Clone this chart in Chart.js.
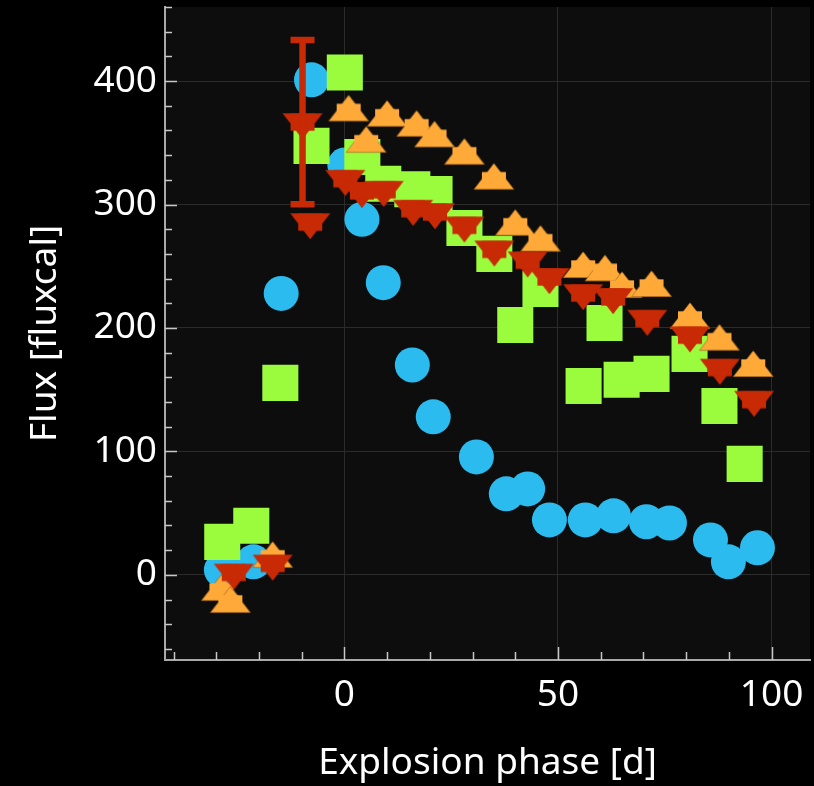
<!DOCTYPE html>
<html>
<head>
<meta charset="utf-8">
<script src="https://cdn.jsdelivr.net/npm/chart.js@4.4.1/dist/chart.umd.min.js"></script>
<style>
  html, body { margin: 0; padding: 0; background: #000; }
  #wrap { width: 814px; height: 786px; }
</style>
</head>
<body>
<div id="wrap"><canvas id="lc" width="814" height="786"></canvas></div>
<script>
// Light-curve photometry, flux vs. phase since explosion, four bands.
const blueX = [-28.8, -21.3, -14.8, -7.7, 0.1, 4.1, 9.1, 15.9, 20.8, 30.9, 37.9, 42.9, 48.0, 56.4, 63.0, 70.7, 76.1, 85.7, 89.9, 96.7];
const blueY = [4, 10.5, 228, 401, 332, 288, 236.7, 170, 128, 95.5, 65.6, 69.6, 44.5, 44.5, 47.8, 43, 42, 28.3, 10.5, 21.9];

const greenX = [-28.6, -21.8, -15.0, -7.7, 0.1, 4.2, 9.1, 15.9, 21.1, 28.1, 35.1, 40.0, 45.9, 56.0, 60.9, 64.9, 71.9, 80.8, 87.8, 93.7];
const greenY = [26.7, 39.7, 155.5, 347.5, 407, 338.5, 316.8, 312.3, 308.5, 281, 260, 202.4, 231.6, 153, 204, 158, 162.8, 179, 136.8, 89.9];

const orangeX = [-28.8, -26.7, -16.8, 1.0, 5.1, 10.0, 16.9, 21.1, 28.1, 35.0, 40.0, 45.9, 55.9, 61.0, 65.0, 71.9, 80.9, 87.8, 95.7];
const orangeY = [-13.8, -23.5, 13, 374.6, 349.3, 370.3, 362.2, 353.6, 339.5, 319.3, 282, 269.1, 247.8, 245.1, 231.6, 232.4, 206.5, 188.9, 167.6];

const redX = [-25.9, -16.8, -9.8, -8.0, 0.2, 4.1, 9.2, 16.1, 21.2, 28.1, 35.1, 42.9, 48.0, 55.9, 62.9, 70.9, 80.9, 87.9, 95.9];
const redY = [1.9, 9.2, 366.8, 285.8, 320.9, 311, 312, 296.6, 293.9, 283.1, 263.7, 254.8, 241.3, 228.3, 225.1, 207.5, 194.1, 167.9, 141.9];
const redErr = [null, null, 66.5, null, null, null, null, null, null, null, null, null, null, null, null, null, null, null, null];

const xTickValues = [0, 50, 100];
const yTickValues = [0, 100, 200, 300, 400];
const xMinorStep = 10;
const yMinorStep = 20;

const xLabel = 'Explosion phase [d]';
const yLabel = 'Flux [fluxcal]';

const COLORS = {
  blue: '#2bbbee',
  green: '#9bfc3d',
  orange: '#ffaa38',
  red: '#c72a05'
};

const FONT = '"Noto Sans", "Open Sans", sans-serif';

function pts(xs, ys) { return xs.map((x, i) => ({ x: x, y: ys[i] })); }

// Triangle marker with a solid core block, drawn on its own small canvas
function triangleMarker(fill, edge, up) {
  const s = 48, c = s / 2, r = 17.3, hw = 20;
  const cv = document.createElement('canvas');
  cv.width = s; cv.height = s;
  const g = cv.getContext('2d');
  const d = up ? 1 : -1;
  g.beginPath();
  g.moveTo(c, c - d * r);
  g.lineTo(c + hw, c + d * r / 2);
  g.lineTo(c - hw, c + d * r / 2);
  g.closePath();
  g.fillStyle = fill;
  g.fill();
  if (edge) { g.lineWidth = 0.8; g.strokeStyle = edge; g.stroke(); }
  g.fillStyle = fill;
  g.fillRect(c - 12, c - r / 2, 24, r - (edge ? 0.8 : 0) * d);
  return cv;
}

const upTri = triangleMarker(COLORS.orange, 'rgba(150,95,30,0.8)', true);
const downTri = triangleMarker(COLORS.red, null, false);

const bgPlugin = {
  id: 'panel',
  beforeDraw(chart) {
    const { ctx, chartArea: a } = chart;
    ctx.save();
    ctx.fillStyle = '#000';
    ctx.fillRect(0, 0, chart.width, chart.height);
    ctx.fillStyle = '#0d0d0d';
    ctx.fillRect(a.left, a.top, a.right - a.left, a.bottom - a.top);
    ctx.restore();
  },
  beforeDatasetsDraw(chart) {
    // inward major/minor ticks on the left and bottom spines
    const { ctx, chartArea: a, scales } = chart;
    const xs = scales.x, ys = scales.y;
    ctx.save();
    ctx.strokeStyle = '#c8c8c8';
    ctx.lineWidth = 1.5;
    ctx.beginPath();
    for (let v = Math.ceil(ys.min / yMinorStep) * yMinorStep; v <= ys.max; v += yMinorStep) {
      const py = Math.round(ys.getPixelForValue(v)) + 0.5;
      const len = yTickValues.includes(v) ? 12 : 7;
      ctx.moveTo(a.left, py);
      ctx.lineTo(a.left + len, py);
    }
    for (let v = Math.ceil(xs.min / xMinorStep) * xMinorStep; v <= xs.max; v += xMinorStep) {
      const px = Math.round(xs.getPixelForValue(v)) + 0.5;
      const len = xTickValues.includes(v) ? 13 : 8;
      ctx.moveTo(px, a.bottom);
      ctx.lineTo(px, a.bottom - len);
    }
    ctx.stroke();
    ctx.restore();
  },
  afterDatasetsDraw(chart) {
    // vertical error bars with caps on the red band
    const { ctx, scales } = chart;
    const xs = scales.x, ys = scales.y;
    ctx.save();
    ctx.strokeStyle = COLORS.red;
    ctx.lineWidth = 6.5;
    ctx.lineCap = 'butt';
    redErr.forEach((e, i) => {
      if (e == null) return;
      const px = xs.getPixelForValue(redX[i]);
      const top = ys.getPixelForValue(redY[i] + e);
      const bot = ys.getPixelForValue(redY[i] - e);
      ctx.beginPath();
      ctx.moveTo(px, top); ctx.lineTo(px, bot);
      ctx.moveTo(px - 12, top); ctx.lineTo(px + 12, top);
      ctx.moveTo(px - 12, bot); ctx.lineTo(px + 12, bot);
      ctx.stroke();
    });
    ctx.restore();
  }
};

new Chart(document.getElementById('lc'), {
  type: 'scatter',
  data: {
    datasets: [
      { label: 'r', data: pts(redX, redY), pointStyle: downTri, pointRadius: 20, backgroundColor: COLORS.red, borderWidth: 0 },
      { label: 'o', data: pts(orangeX, orangeY), pointStyle: upTri, pointRadius: 20, backgroundColor: COLORS.orange, borderWidth: 0 },
      { label: 'g', data: pts(greenX, greenY), pointStyle: 'rect', pointRadius: 25.5, backgroundColor: COLORS.green, borderWidth: 0 },
      { label: 'b', data: pts(blueX, blueY), pointStyle: 'circle', pointRadius: 17.5, backgroundColor: COLORS.blue, borderWidth: 0 }
    ]
  },
  options: {
    responsive: false,
    animation: false,
    events: [],
    layout: { autoPadding: false, padding: { top: 7, right: 4, left: 0, bottom: 0 } },
    plugins: { legend: { display: false }, tooltip: { enabled: false } },
    scales: {
      x: {
        type: 'linear',
        min: -42, max: 109,
        afterFit(s) { s.height = 126; s.paddingLeft = 0; s.paddingRight = 0; },
        afterBuildTicks(s) { s.ticks = xTickValues.map(v => ({ value: v })); },
        grid: { color: '#2b2b2b', lineWidth: 1, drawTicks: false },
        border: { display: true, color: '#a8a8a8', width: 2 },
        ticks: { color: '#ffffff', padding: 13, maxRotation: 0, font: { family: FONT, size: 37 } },
        title: { display: true, text: xLabel, color: '#ffffff', padding: { top: 1, bottom: 0 }, font: { family: FONT, size: 37 } }
      },
      y: {
        type: 'linear',
        min: -69, max: 460,
        afterFit(s) { s.width = 165; s.paddingTop = 0; s.paddingBottom = 0; },
        afterBuildTicks(s) { s.ticks = yTickValues.map(v => ({ value: v })); },
        grid: { color: '#2b2b2b', lineWidth: 1, drawTicks: false },
        border: { display: true, color: '#a8a8a8', width: 2 },
        ticks: { color: '#ffffff', padding: 8, font: { family: FONT, size: 37 } },
        title: { display: true, text: yLabel, color: '#ffffff', padding: { top: 23, bottom: 0 }, font: { family: FONT, size: 37 } }
      }
    }
  },
  plugins: [bgPlugin]
});
</script>
</body>
</html>
